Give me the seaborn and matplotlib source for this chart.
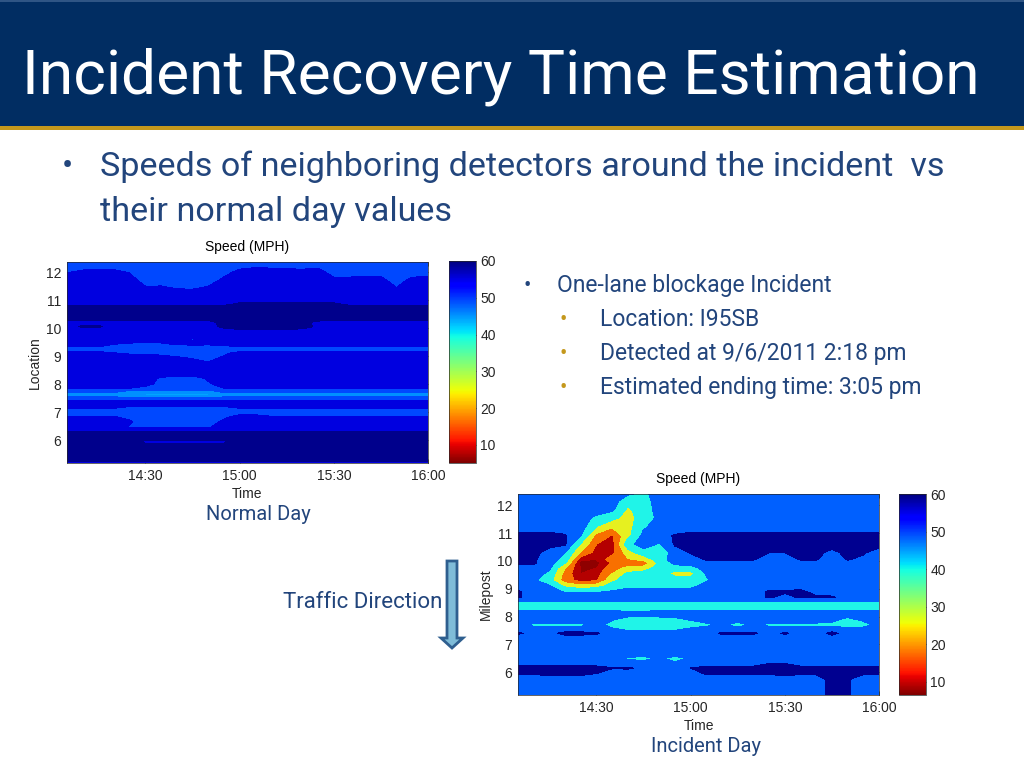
###############################################################################
###  Speed contour slide: normal day vs incident day                        ###
###############################################################################

import matplotlib
matplotlib.use('Agg')
import matplotlib.pyplot as plt
import matplotlib.cm as cm
import matplotlib.colors as colors
from matplotlib.patches import Polygon, Rectangle
import seaborn as sns

#------------------------------------------------------------------------------
### Data

TITLE = 'Incident Recovery Time Estimation'
HEADLINE = ['Speeds of neighboring detectors around the incident  vs',
	'their normal day values']
SIDE_MAIN = 'One-lane blockage Incident'
SIDE_SUB = ['Location: I95SB', 'Detected at 9/6/2011 2:18 pm',
	'Estimated ending time: 3:05 pm']

# Minutes after 14:00
TIME_MIN = [5, 10, 15, 20, 25, 30, 35, 40, 45, 50, 55, 60, 65, 70, 75, 80, 85,
	90, 95, 100, 105, 110, 115, 120]
TIME_TICKS = [30, 60, 90, 120]
TIME_LABELS = ['14:30', '15:00', '15:30', '16:00']
MILE_TICKS = [6, 7, 8, 9, 10, 11, 12]
BAR_TICKS = [10, 20, 30, 40, 50, 60]

NORMAL_MILES = [12.36, 12.0, 11.7, 11.4, 11.1, 10.85, 10.7, 10.35, 10.2, 10.05,
	9.9, 9.6, 9.45, 9.35, 9.25, 9.1, 8.95, 8.4, 8.2, 8.0, 7.85, 7.72, 7.63,
	7.52, 7.42, 7.3, 7.17, 7.0, 6.85, 6.65, 6.45, 6.3, 6.2, 5.95, 5.7, 5.25,
	5.18]
NORMAL_SPEED = [
	[50,50,50,50,50,50,50,50,50,50,50,50,50,50,50,50,50,50,50,50,50,50,50,50],
	[51.8,52.5,52.8,52.6,51.8,50,50,50,50,50,51,52.8,53.6,53.3,53,52.8,53.3,50.5,50.5,51,50.8,50,50.5,50.8],
	[54,54,54,54,53.5,50.5,50.5,50.5,50.5,50.5,52.8,55,55,55,55,55,55,53,53,53,53,50.5,53,53],
	[55,55,55,55,55,52.7,52.8,52,51.9,52.7,55,55,55,55,55,55,55,55,55,55,55,52.3,55,55],
	[55,55,55,55,55,55,55,55,55,55,55,55,55,55,55,55,55,55,55,55,55,55,55,55],
	[56.5,56.5,56.5,56.5,56.5,56.5,56.5,56.5,56.5,56.5,56.5,57.5,57.5,57.5,57.5,57.5,57.5,57.5,56.5,56.5,56.5,56.5,56.5,56.5],
	[58.5,58.5,58.5,58.5,58.5,58.5,58.5,58.5,58.5,58.5,58.5,58.5,58.5,58.5,58.5,58.5,58.5,58.5,58.5,58.5,58.5,58.5,58.5,58.5],
	[58,58,58,58,58,58,58,58,58,58,58,58,58,58,58,58,58,58,58,58,58,58,58,58],
	[56,56,56,56,56,56,56,56,56,56,58,58,58,58,58,57.5,56.5,56,56,56,56,56,56,56],
	[55.5,57.5,57.5,55.5,55.5,55.5,55.5,56.5,55.5,55.5,58,58,58,58,58,58,56.5,55.5,55.5,55.5,55.5,55.5,55.5,55.5],
	[55,55,55,55,55,55,55,55,55,55,55,56.5,56.5,56.5,56.5,56,55,55,55,55,55,55,55,55],
	[54,54,54,54,54,54,54,54,51.5,54,54,54,54,54,54,54,54,54,54,54,54,54,54,54],
	[54,54,54,52.6,51.8,51.5,51.7,53,53.5,53,53,54,54,54,54,54,54,54,54,54,54,54,54,54],
	[52.5,52.5,52.5,50.5,50,50,50,50.8,51,51.1,51.5,52.5,52.5,52.5,52.5,52.5,52.5,52.5,52.5,52.5,52.5,52.5,52.5,52.5],
	[50.5,50.5,50.5,50.5,50.5,50.5,50.5,50.5,50.5,50.5,50.5,50.5,50.5,50.5,50.5,50.5,50.5,50.5,50.5,50.5,50.5,50.5,50.5,50.5],
	[53,53,53,52.2,51.5,51.3,51.2,51,51,51,51.5,53,53,53,53,53,53,53,53,53,53,53,53,53],
	[54,54,54,54,54,54,53,52.2,51.8,51.2,52.3,54,54,54,54,54,54,54,54,54,54,54,54,54],
	[54,54,54,54,54,54,54,54,54,54,54,54,54,54,54,54,54,54,54,54,54,54,54,54],
	[54,54,54,54,54,53.5,51.5,50.5,50.5,52.5,54,54,54,54,54,54,54,54,54,54,54,54,54,54],
	[54,54,54,54,54,54,50,50,50,51.5,53.5,54,54,54,54,54,54,54,54,54,54,54,54,54],
	[52,52,52,52,52,50,50,50,50,50,52,52,52,52,52,52,52,52,52,52,52,52,52,52],
	[48,48,48,48,44,44,44,44,44,44,48,48,48,48,48,48,48,48,48,48,48,48,48,48],
	[44.5,44.5,44.5,44.5,43,41,41,41,41,41,43,44.5,44.5,44.5,44.5,44.5,44.5,44.5,44.5,44.5,44.5,44.5,44.5,44.5],
	[48,48,48,48,46,46,46,46,46,46,48,48,48,48,48,48,48,48,48,48,48,48,48,48],
	[52,52,52,52,52,52,52,52,52,52,52,52,52,52,52,52,52,52,52,52,52,52,52,52],
	[54,54,54,54,54,54,54,54,54,54,54,54,54,54,54,54,54,54,54,54,54,54,54,54],
	[52.5,52.5,52.5,52.5,51.5,51.5,51.5,51.5,51.5,51.5,51.5,52.5,52.5,52.5,52.5,52.5,52.5,52.5,52.5,52.5,52.5,52.5,52.5,52.5],
	[50,50,50,50,50,50,50,50,50,50,50,50,50,50,50,50,50,50,50,50,50,50,50,50],
	[52,52,52,52,51,51,51,51,51,51,51,53,53,52,52,52,52,52,52,52,52,52,52,52],
	[54,54,54,54,52.5,50,50,50,50,50,53,54,54,54,54,54,54,54,54,54,54,54,54,54],
	[54.5,54.5,54.5,54.5,51.5,51.5,51.5,51.5,51.5,51.5,55,55,55,55,55,55,55,55,55,55,55,55,55,55],
	[57,57,57,57,57,57,57,57,57,57,57,57,57,57,57,57,57,57,57,57,57,57,57,57],
	[58,58,58,58,58,58,58,58,58,58,58,58,58,58,58,58,58,58,58,58,58,58,58,58],
	[58,58,58,58,58,56.8,56.8,56.8,56.8,56.8,56.8,58,58,58,58,58,58,58,58,58,58,58,58,58],
	[57.5,57.5,57.5,57.5,57.5,57.5,57.5,57.5,57.5,57.5,57.5,57.5,57.5,57.5,57.5,57.5,57.5,57.5,57.5,57.5,57.5,57.5,57.5,57.5],
	[58,58,58,58,58,58,58,58,58,58,58,58,58,58,58,58,58,58,58,58,58,58,58,58],
	[53,53,53,53,53,53,53,53,53,53,53,53,53,53,53,53,53,53,53,53,53,53,53,53],
]

INCIDENT_MILES = [12.41, 12.15, 11.85, 11.55, 11.2, 10.9, 10.6, 10.3, 10.05,
	9.92, 9.75, 9.55, 9.3, 9.1, 8.9, 8.7, 8.55, 8.4, 8.25, 8.1, 7.9, 7.7, 7.55,
	7.4, 7.2, 6.95, 6.65, 6.5, 6.3, 6.15, 5.95, 5.75, 5.45, 5.18]
INCIDENT_SPEED = [
	[52,52,52,52,52,52,52,49,46,52,52,52,52,52,52,52,52,52,52,52,52,52,52,52],
	[52,52,52,52,52,52,52,42,44,52,52,52,52,52,52,52,52,52,52,52,52,52,52,52],
	[52,52,52,52,52,52,50,36,44,51,52,52,52,52,52,52,52,52,52,52,52,52,52,52],
	[52,52,52,52,52,46,41,34,43,50,52,52,52,52,52,52,52,52,52,52,52,52,52,52],
	[52,52,52,52,52,37,28,34,47,52,52,52,52,52,52,52,52,52,52,52,52,52,52,52],
	[59,59,59,57,48,24,17,35,51,52,57,59,59,59,59,59,59,59,59,59,59,59,59,59],
	[59,59,59,57,37,18,13,45,52,47,57,59,59,59,59,59,59,59,59,59,59,59,59,59],
	[59,59,52,48,27,14,15,33,44,42,52,56.5,58,58,58,58,56,56,58,58,54,58,57,52],
	[57,57,52,45,11,10,24,27,30,44,52,53,56.5,56.5,56.5,56.5,52,52,56.5,56.5,52,56.5,54,52],
	[57,57,52,38,7,7,19,22,22,40,50,52,53,53,53,53,52,52,53,53,52,53,52,52],
	[52,52,50,28,9.5,10,24,30,32,43,44,44,52,52,52,52,52,52,52,52,52,52,52,52],
	[52,52,46,24,10,14,28,40,43,44,34,34,49,52,52,52,52,52,52,52,52,52,52,52],
	[52,49.5,42,22,15,17,36,43,44,44,44,44,47,52,52,52,52,52,52,52,52,52,52,52],
	[52,52,49,36,31,34,42,45,45,45,45,45,52,52,52,52,52,52,52,52,52,52,52,52],
	[57,52,52,47,47,47,49,52,52,52,52,52,52,52,52,52,57,57,58,53,52,52,52,52],
	[57,52,52,52,52,52,52,52,52,52,52,52,52,52,52,53,57,54,57,57,57,52,52,52],
	[47.8,47.8,47.8,47.8,47.8,47.8,47.8,47.8,47.8,47.8,47.8,47.8,47.8,47.8,47.8,47.8,47.8,47.8,47.8,47.8,47.8,47.8,47.8,47.8],
	[43,43,43,43,43,37.5,37.5,37.5,37.5,37.5,43,43,43,43,39,39,39,39,39,43,43,43,43,43],
	[47.5,47.5,47.5,47.5,47.5,47.5,47.5,44,44,47.5,47.5,47.5,47.5,47.5,47.5,47.5,47.5,47.5,47.5,47.5,47.5,47.5,47.5,47.5],
	[52,52,52,52,52,52,52,52,52,52,52,52,52,52,52,52,52,52,52,52,52,52,52,52],
	[52,52,52,52,52,52,49,45,44,45,46,49,52,52,52,52,52,52,52,52,50,46,50,52],
	[52,46,46,46,46,52,44,43,43,43,43,43,46,50,44,50,46,46,46,46,46,43,44,52],
	[52,52,52,52,52,52,49.5,46,46,46,46,50,52,52,52,52,52,52,52,52,52,51,52,52],
	[57,54,54,58,58,57,52,52,52,52,52,52,52,57,57,57,53,57,53,52,58,53,52,52],
	[52,52,52,52,52,52,52,52,52,52,52,52,52,52,52,52,52,52,52,52,52,52,52,52],
	[52,52,52,52,52,52,52,52,52,47.5,52,52,52,52,52,52,52,52,52,52,52,52,52,52],
	[52,52,52,52,52,52,52,52,52,52,52,52,52,52,52,52,52,52,52,52,52,52,52,52],
	[52,52,52,52,52,52,52,47,45,50,44,50,52,52,52,52,52,52,52,52,52,52,52,52],
	[53,53,53,53,53,53,52,52,52,52,50,52,52,52,52,52,56.5,56.5,52,52,52,52,52,52],
	[59,59,59,59,59,59,56.5,57,54,52,54,56,59,59,59,59,59,59,59,59,59,59,59,59],
	[57,57,58,58,58,56,52,52,52,52,52,52,57,57,57,57,57,58,57,57,59,57,57,57],
	[52,52,52,52,52,52,52,52,52,52,52,52,52,52,52,52,52,52,52,52,59,57,52,52],
	[52,52,52,52,52,52,52,52,52,52,52,52,52,52,52,52,52,52,52,52,59,57,52,52],
	[52,52,52,52,52,52,52,52,52,52,52,52,52,52,52,52,52,52,52,52,59,57,52,52],
]

#------------------------------------------------------------------------------
### Constants

WIDTH, HEIGHT = 1024, 768
BODY_FONT = ['Roboto', 'DejaVu Sans']
CHART_FONT = ['Liberation Sans', 'DejaVu Sans']
NAVY = '#012d62'
GOLD = '#c4981c'
TEXT_BLUE = '#22457c'
CHART_SIZE = 10

NORMAL_LEVELS = [0, 42, 47, 52, 57, 65]
NORMAL_COLORS = ['#00a4ff', '#0090ff', '#0048ff', '#0000e0', '#00008c']
INCIDENT_LEVELS = [0, 10, 18, 28, 38, 48, 56, 65]
INCIDENT_COLORS = ['#8f0000', '#b40000', '#f87000', '#e6f020', '#20f4e8',
	'#0060ff', '#000090']


#------------------------------------------------------------------------------
### Functions

# Axes from a pixel box (left, top, right, bottom)
def px_axes(fig, box):
	left, top, right, bottom = box
	return fig.add_axes([left/WIDTH, 1 - bottom/HEIGHT, (right-left)/WIDTH,
		(bottom-top)/HEIGHT])


def speed_panel(fig, box, bar_box, miles, speed, levels, fill, ylabel, ymin,
		ymax, bar_min):
	ax = px_axes(fig, box)
	ax.contourf(TIME_MIN, miles, speed, levels=levels, colors=fill)
	ax.set_xlim(TIME_MIN[0], TIME_MIN[-1])
	ax.set_ylim(ymin, ymax)
	ax.set_xticks(TIME_TICKS, TIME_LABELS)
	ax.set_yticks(MILE_TICKS)
	ax.tick_params(direction='in', length=3, width=0.5, top=True, right=True,
		labelsize=CHART_SIZE, pad=4)
	ax.set_title('Speed (MPH)', fontsize=CHART_SIZE, pad=8)
	ax.set_xlabel('Time', fontsize=CHART_SIZE, labelpad=3)
	ax.set_ylabel(ylabel, fontsize=CHART_SIZE, labelpad=3)
	for spine in ax.spines.values():
		spine.set_linewidth(0.5)

	# Colour bar keeps the smooth reversed jet ramp
	cax = px_axes(fig, bar_box)
	norm = colors.Normalize(bar_min, 60)
	cmap = sns.color_palette('jet_r', as_cmap=True)
	bar = fig.colorbar(cm.ScalarMappable(norm=norm, cmap=cmap), cax=cax,
		ticks=BAR_TICKS)
	bar.ax.tick_params(direction='in', length=2, width=0.5,
		labelsize=CHART_SIZE, pad=3)
	bar.outline.set_linewidth(0.5)


# Slide text set on its baseline, in page pixels
def slide_text(page, x, y, text, size, color=TEXT_BLUE, ha='left'):
	page.text(x, y, text, color=color, fontsize=size, family=BODY_FONT,
		va='baseline', ha=ha)


#------------------------------------------------------------------------------
### Figure

sns.set_theme(style='ticks')
plt.rcParams['font.family'] = CHART_FONT
plt.rcParams['text.color'] = 'black'

fig = plt.figure(figsize=(WIDTH/100, HEIGHT/100), dpi=100, facecolor='white')

# Slide layer in pixel coordinates
page = fig.add_axes([0, 0, 1, 1])
page.set_xlim(0, WIDTH)
page.set_ylim(HEIGHT, 0)
page.axis('off')
page.add_patch(Rectangle((0, 0), WIDTH, 126, color=NAVY, lw=0))
page.add_patch(Rectangle((0, 0), WIDTH, 1.5, color='#2f5585', lw=0))
page.add_patch(Rectangle((0, 126), WIDTH, 4, color=GOLD, lw=0))
slide_text(page, 22, 93, TITLE, 44.8, color='white')

slide_text(page, 67, 176, '•', 24, ha='center')
for y, line in zip([176, 221], HEADLINE):
	slide_text(page, 100, y, line, 24.6)

slide_text(page, 527, 292, '•', 16, ha='center')
slide_text(page, 557, 292, SIDE_MAIN, 16.5)
for y, line in zip([326, 360, 394], SIDE_SUB):
	slide_text(page, 563, y, '•', 16, color=GOLD, ha='center')
	slide_text(page, 600, y, line, 16.5)

slide_text(page, 258, 520, 'Normal Day', 14.5, ha='center')
slide_text(page, 706, 752, 'Incident Day', 14.5, ha='center')
slide_text(page, 363, 608, 'Traffic Direction', 16, ha='center')

# Traffic direction arrow
page.add_patch(Polygon([(447, 561), (457, 561), (457, 638), (463, 638),
	(452, 648), (441, 638), (447, 638)], closed=True, facecolor='#7fbcd8',
	edgecolor='#2f5f8f', linewidth=2))

speed_panel(fig, (67, 262, 428, 463), (449, 261, 476, 463), NORMAL_MILES,
	NORMAL_SPEED, NORMAL_LEVELS, NORMAL_COLORS, 'Location', 5.18, 12.36, 5.1)
speed_panel(fig, (518, 494, 879, 695), (899, 494, 926, 695), INCIDENT_MILES,
	INCIDENT_SPEED, INCIDENT_LEVELS, INCIDENT_COLORS, 'Milepost', 5.18, 12.41,
	6.5)

plt.savefig('out.png', dpi=100)
plt.close()
